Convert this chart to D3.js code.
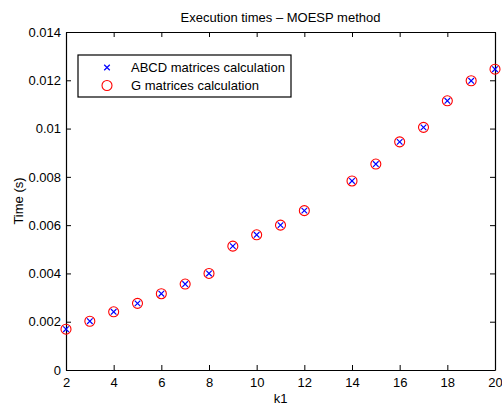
<!DOCTYPE html>
<html>
<head>
<meta charset="utf-8">
<script src="https://cdn.jsdelivr.net/npm/d3@7"></script>
<style>
  body { margin: 0; background: #fff; }
  text { font-family: "Liberation Sans", Arial, sans-serif; }
</style>
</head>
<body>
<div id="chart"></div>
<script>
// data
var k1 = [2, 3, 4, 5, 6, 7, 8, 9, 10, 11, 12, 14, 15, 16, 17, 18, 19, 20]
var abcdTimes = [0.00169, 0.00202, 0.00241, 0.00276, 0.00316, 0.00356, 0.00400, 0.00513,
  0.00560, 0.00600, 0.00660, 0.00783, 0.00853, 0.00945, 0.01005, 0.01115, 0.01198, 0.01246]
var gTimes = [0.00169, 0.00202, 0.00241, 0.00276, 0.00316, 0.00356, 0.00400, 0.00513,
  0.00560, 0.00600, 0.00660, 0.00783, 0.00853, 0.00945, 0.01005, 0.01115, 0.01198, 0.01246]
var xTicks = [2, 4, 6, 8, 10, 12, 14, 16, 18, 20]
var yTicks = [0, 0.002, 0.004, 0.006, 0.008, 0.01, 0.012, 0.014]
var legendLabels = ['ABCD matrices calculation', 'G matrices calculation']

var margin = {top: 32, right: 7, bottom: 35, left: 66},
  width = 502 - margin.left - margin.right,
  height = 405 - margin.top - margin.bottom

var svg = d3.select('#chart')
  .append('svg')
  .attr('width', 502)
  .attr('height', 405)
  .append('g')
  .attr('transform', 'translate(' + margin.left + ',' + margin.top + ')')

var x_scale = d3.scaleLinear().domain([2, 20]).range([0, width])
var y_scale = d3.scaleLinear().domain([0, 0.014]).range([height, 0])

// axes, ticks pointing inwards, mirrored on top and right
svg.append('g')
  .attr('class', 'axis')
  .attr('transform', 'translate(0,' + height + ')')
  .call(d3.axisBottom(x_scale).tickValues(xTicks).tickSizeInner(-5).tickSizeOuter(0).tickPadding(8))
svg.append('g')
  .attr('class', 'axis')
  .call(d3.axisTop(x_scale).tickValues(xTicks).tickSizeInner(-5).tickSizeOuter(0).tickFormat(''))
svg.append('g')
  .attr('class', 'axis')
  .call(d3.axisLeft(y_scale).tickValues(yTicks).tickSizeInner(-5).tickSizeOuter(0).tickPadding(5)
    .tickFormat(function(d) { return d === 0 ? '0' : String(+d.toFixed(3)) }))
svg.append('g')
  .attr('class', 'axis')
  .attr('transform', 'translate(' + width + ',0)')
  .call(d3.axisRight(y_scale).tickValues(yTicks).tickSizeInner(-5).tickSizeOuter(0).tickFormat(''))

svg.selectAll('.axis path').attr('stroke', '#000').attr('stroke-width', 1.2)
svg.selectAll('.axis line').attr('stroke', '#000')
svg.selectAll('.axis text').attr('font-size', 13).attr('fill', '#000')
  .style('font-family', '"Liberation Sans", Arial, sans-serif')

// red circles
svg.selectAll('circle.g')
  .data(k1.map(function(k, i) { return [k, gTimes[i]] }))
  .enter()
  .append('circle')
  .attr('class', 'g')
  .attr('cx', function(d) { return x_scale(d[0]) })
  .attr('cy', function(d) { return y_scale(d[1]) })
  .attr('r', 5)
  .attr('fill', 'none')
  .attr('stroke', '#ff0000')
  .attr('stroke-width', 1.1)

// blue crosses
var cross = d3.symbol().type(d3.symbolX).size(22)
svg.selectAll('path.abcd')
  .data(k1.map(function(k, i) { return [k, abcdTimes[i]] }))
  .enter()
  .append('path')
  .attr('class', 'abcd')
  .attr('d', cross)
  .attr('transform', function(d) { return 'translate(' + x_scale(d[0]) + ',' + y_scale(d[1]) + ')' })
  .attr('fill', 'none')
  .attr('stroke', '#0000ff')
  .attr('stroke-width', 1.2)

// title and labels
svg.append('text')
  .attr('x', width / 2)
  .attr('y', -10.5)
  .attr('text-anchor', 'middle')
  .attr('font-size', 13)
  .text('Execution times \u2013 MOESP method')

svg.append('text')
  .attr('x', width / 2)
  .attr('y', height + 32.5)
  .attr('text-anchor', 'middle')
  .attr('font-size', 13)
  .text('k1')

svg.append('text')
  .attr('transform', 'translate(' + (-43.5) + ',' + (height / 2) + ') rotate(-90)')
  .attr('text-anchor', 'middle')
  .attr('font-size', 13)
  .text('Time (s)')

// legend
var legend = svg.append('g').attr('transform', 'translate(12,23)')
legend.append('rect')
  .attr('width', 213)
  .attr('height', 42)
  .attr('fill', '#fff')
  .attr('stroke', '#000')
  .attr('stroke-width', 1.2)

legend.append('path')
  .attr('d', cross)
  .attr('transform', 'translate(29,12.5)')
  .attr('fill', 'none')
  .attr('stroke', '#0000ff')
  .attr('stroke-width', 1.2)
legend.append('circle')
  .attr('cx', 29)
  .attr('cy', 30.5)
  .attr('r', 5)
  .attr('fill', 'none')
  .attr('stroke', '#ff0000')
  .attr('stroke-width', 1.1)

legend.selectAll('text.lab')
  .data(legendLabels)
  .enter()
  .append('text')
  .attr('class', 'lab')
  .attr('x', 53)
  .attr('y', function(d, i) { return 12.5 + i * 18 })
  .attr('dy', '0.35em')
  .attr('font-size', 13)
  .text(function(d) { return d })
</script>
</body>
</html>
